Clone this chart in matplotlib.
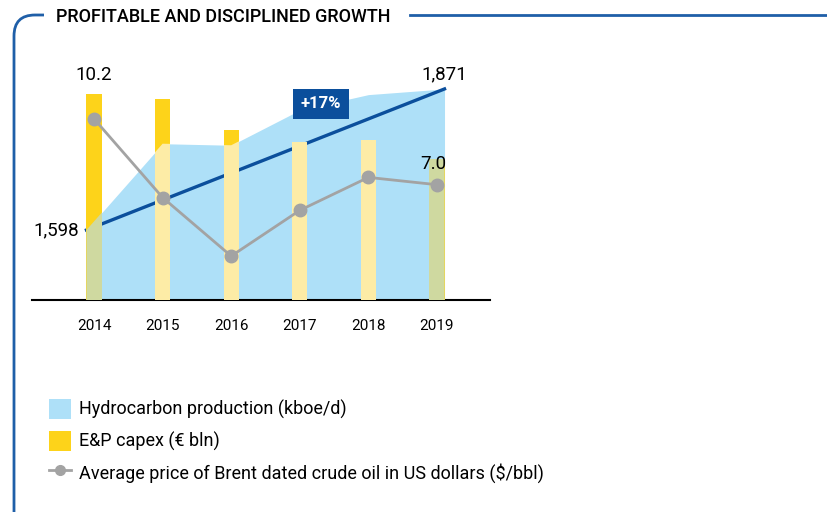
import numpy as np
import matplotlib.pyplot as plt
from matplotlib.path import Path
from matplotlib.patches import PathPatch, Patch
from matplotlib.lines import Line2D

plt.rcParams["font.family"] = ["Roboto", "DejaVu Sans"]

# ── data ────────────────────────────────────────────────────────────────────
anni = ["2014", "2015", "2016", "2017", "2018", "2019"]
produzione = [1598, 1765, 1762, 1830, 1860, 1871]      # kboe/d
capex = [10.2, 9.95, 8.4, 7.8, 7.9, 7.0]               # € bln
brent = [99, 56, 24, 49, 67, 63]                        # $/bbl (as drawn)

# ── colori ──────────────────────────────────────────────────────────────────
c_area = "#aee0f8"
c_capex = "#fdd31a"
c_pale = "#fdeca6"
c_green = "#cfd9a0"
c_trend = "#0b4f9c"
c_brent = "#a3a3a3"
c_frame = "#1f5fa8"

W, H = 827, 512
fig = plt.figure(figsize=(W / 100, H / 100), dpi=100)

# axes box in pixel units
x0, x1, ybase, ytop = 32, 490, 300, 60
rect = [x0 / W, (H - ybase) / H, (x1 - x0) / W, (ybase - ytop) / H]

ax_area = fig.add_axes(rect)
ax_bar = fig.add_axes(rect, sharex=ax_area)
ax_line = fig.add_axes(rect, sharex=ax_area)
for a in (ax_bar, ax_line):
    a.patch.set_visible(False)

x = np.arange(len(anni))
bw = 0.22

# area produzione (dal bordo sinistro della barra 2014 al bordo destro 2019)
xa = x.astype(float).copy()
xa[0] -= bw / 2
xa[-1] += bw / 2
area = ax_area.fill_between(xa, 1462.5, produzione, color=c_area, lw=0)
ax_area.set_ylim(1462.5, 1927)

# trend 2014 -> 2019
ax_area.plot([xa[0], xa[-1]], [produzione[0], produzione[-1]], color=c_trend, lw=2.4, zorder=5)
ax_area.annotate(f"{produzione[0]:,}", (xa[0], produzione[0]), xytext=(-5, 0),
                 textcoords="offset points", ha="right", va="center", fontsize=13.5)
ax_area.annotate(f"{produzione[-1]:,}", (xa[-1], produzione[-1]), xytext=(0, 4),
                 textcoords="offset points", ha="center", va="bottom", fontsize=13.5)
ax_area.text(3.31, 1842, "+17%", ha="center", va="center", color="white",
             fontsize=12, fontweight="bold",
             bbox=dict(boxstyle="square,pad=0.45", fc=c_trend, ec="none"))

# barre capex
ax_bar.bar(x, capex, width=bw, color=c_capex, lw=0)
clip_path = area.get_paths()[0]
over_cols = [c_green, c_pale, c_pale, c_pale, c_pale, c_green]
over = ax_bar.bar(x, capex, width=bw, color=over_cols, lw=0)
for b in over:
    b.set_clip_path(clip_path, ax_area.transData)
ax_bar.set_ylim(0, 10.2 * 240 / 206)
ax_bar.annotate(f"{capex[0]:.1f}", (x[0], capex[0]), xytext=(0, 7),
                textcoords="offset points", ha="center", va="bottom", fontsize=13.5)
ax_bar.annotate(f"{capex[-1]:.1f}", (x[-1] - 0.05, capex[-1]), xytext=(0, -4),
                textcoords="offset points", ha="center", va="center", fontsize=13.5)

# brent
ax_line.plot(x, brent, color=c_brent, lw=2, marker="o", ms=9, zorder=6)
ax_line.set_ylim(0, 240 / 1.83)

ax_area.set_xlim(-0.904, 5.773)
for a in (ax_area, ax_bar, ax_line):
    for s in a.spines.values():
        s.set_visible(False)
    a.set_yticks([])
    a.tick_params(length=0)
ax_area.spines["bottom"].set_visible(True)
ax_area.spines["bottom"].set_linewidth(1.5)
ax_area.spines["bottom"].set_zorder(10)
ax_area.set_xticks(x, anni, fontsize=11)
ax_area.tick_params(axis="x", pad=14)
for a in (ax_bar, ax_line):
    a.tick_params(labelbottom=False)

# ── cornice e titolo ────────────────────────────────────────────────────────
def fp(px, py):
    return (px / W, 1 - py / H)

verts = [fp(14, 515), fp(14, 36), fp(14, 15), fp(35, 15), fp(44, 15)]
codes = [Path.MOVETO, Path.LINETO, Path.CURVE3, Path.CURVE3, Path.LINETO]
fig.patches.append(PathPatch(Path(verts, codes), fc="none", ec=c_frame, lw=2,
                             transform=fig.transFigure))
fig.add_artist(Line2D([410 / W, 1], [1 - 15 / H] * 2, color=c_frame, lw=2))
fig.text(56 / W, 1 - 17 / H, "PROFITABLE AND DISCIPLINED GROWTH", fontsize=13,
         fontweight="medium", ha="left", va="center")

# ── legenda ─────────────────────────────────────────────────────────────────
handles = [
    Patch(fc=c_area, ec="none", label="Hydrocarbon production (kboe/d)"),
    Patch(fc=c_capex, ec="none", label="E&P capex (€ bln)"),
    Line2D([], [], color=c_brent, lw=2, marker="o", ms=7,
           label="Average price of Brent dated crude oil in US dollars ($/bbl)"),
]
fig.legend(handles=handles, loc="upper left", bbox_to_anchor=(40 / W, 1 - 390 / H),
           frameon=False, fontsize=13, handlelength=1.2, handleheight=1.35,
           handletextpad=0.45, labelspacing=0.62, borderpad=0)

fig.savefig("out.png", dpi=100)
